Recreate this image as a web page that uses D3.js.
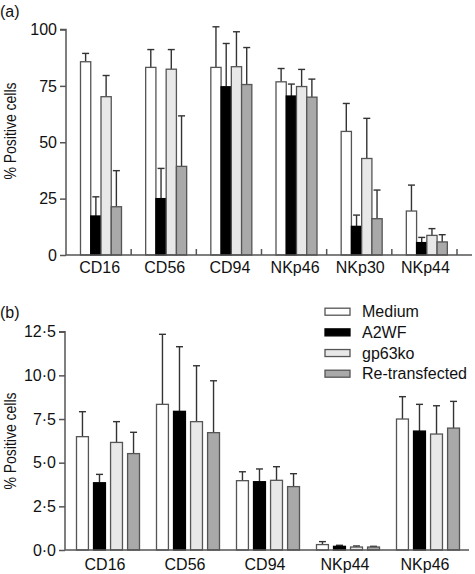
<!DOCTYPE html>
<html>
<head>
<meta charset="utf-8">
<script src="https://cdn.jsdelivr.net/npm/d3@7"></script>
<style>
  html, body { margin: 0; padding: 0; background: #fff; }
  svg { display: block; font-family: "Liberation Sans", Arial, Helvetica, sans-serif; }
</style>
</head>
<body>
<svg id="chart" width="475" height="574"></svg>
<script>
// ---------- data ----------
const series = ["Medium", "A2WF", "gp63ko", "Re-transfected"];

const catsA = ["CD16", "CD56", "CD94", "NKp46", "NKp30", "NKp44"];
const meanA = {
  "Medium":         [85.7, 83.2, 83.2, 76.8, 54.8, 19.5],
  "A2WF":           [17.3, 25.0, 74.6, 70.5, 12.7, 5.5],
  "gp63ko":         [70.2, 82.4, 83.5, 74.7, 42.8, 8.7],
  "Re-transfected": [21.4, 39.3, 75.6, 70.0, 16.1, 5.8]
};
const errTopA = {
  "Medium":         [89.4, 91.1, 101.2, 82.7, 67.2, 31.0],
  "A2WF":           [25.8, 38.4, 93.8, 75.8, 17.7, 7.8],
  "gp63ko":         [79.6, 91.1, 99.0, 82.3, 60.6, 11.7],
  "Re-transfected": [37.4, 61.7, 92.0, 78.0, 28.8, 9.0]
};
const ticksA = [0, 25, 50, 75, 100];

const catsB = ["CD16", "CD56", "CD94", "NKp44", "NKp46"];
const meanB = {
  "Medium":         [6.49, 8.34, 3.97, 0.31, 7.50],
  "A2WF":           [3.85, 7.94, 3.91, 0.21, 6.81],
  "gp63ko":         [6.16, 7.35, 3.99, 0.17, 6.64],
  "Re-transfected": [5.52, 6.72, 3.63, 0.17, 6.98]
};
const errTopB = {
  "Medium":         [7.92, 12.35, 4.48, 0.48, 8.78],
  "A2WF":           [4.33, 11.64, 4.64, 0.27, 8.34],
  "gp63ko":         [7.35, 10.55, 4.77, 0.23, 8.26],
  "Re-transfected": [6.74, 9.69, 4.37, 0.21, 8.51]
};
const ticksB = [0, 2.5, 5, 7.5, 10, 12.5];

// ---------- styles ----------
const fills = {"Medium": "#ffffff", "A2WF": "#000000", "gp63ko": "#e8e8e8", "Re-transfected": "#a9a9a9"};
const strokeCol = "#555";
const axisCol = "#555";
const errCol = "#333";

const svg = d3.select("#chart");

function panel(opts) {
  const g = svg.append("g");
  const x = d3.scaleBand().domain(opts.cats).range(opts.xRange).padding(0);
  const xi = d3.scaleBand().domain(series).range(opts.innerRange).paddingInner(opts.innerPad).paddingOuter(0);
  const y = d3.scaleLinear().domain(opts.yDomain).range(opts.yRange);

  series.forEach(s => {
    const rows = opts.cats.map((c, i) => ({c, v: opts.mean[s][i], e: opts.err[s][i]}));
    const sg = g.append("g");
    sg.selectAll("line.eb").data(rows).join("line")
      .attr("x1", d => x(d.c) + xi(s) + xi.bandwidth() / 2)
      .attr("x2", d => x(d.c) + xi(s) + xi.bandwidth() / 2)
      .attr("y1", d => y(d.v)).attr("y2", d => y(d.e))
      .attr("stroke", errCol).attr("stroke-width", 1.4);
    sg.selectAll("line.cap").data(rows).join("line")
      .attr("x1", d => x(d.c) + xi(s) + xi.bandwidth() / 2 - 3.5)
      .attr("x2", d => x(d.c) + xi(s) + xi.bandwidth() / 2 + 3.5)
      .attr("y1", d => y(d.e)).attr("y2", d => y(d.e))
      .attr("stroke", errCol).attr("stroke-width", 1.4);
    sg.selectAll("rect").data(rows).join("rect")
      .attr("x", d => x(d.c) + xi(s))
      .attr("width", xi.bandwidth())
      .attr("y", d => y(d.v))
      .attr("height", d => y(0) - y(d.v))
      .attr("fill", fills[s])
      .attr("stroke", s === "A2WF" ? "#000" : strokeCol)
      .attr("stroke-width", 1.3);
  });

  const ya = d3.axisLeft(y).tickValues(opts.ticks).tickSize(6).tickPadding(3).tickFormat(opts.fmt);
  const yg = g.append("g").attr("transform", `translate(${opts.xRange[0] - (opts.axisX0off || 0)},0)`).call(ya);
  yg.select(".domain").attr("stroke", axisCol).attr("stroke-width", 1.5).attr("d", `M-6,${y(opts.yDomain[1])}H0V${y(0)}`);
  yg.selectAll(".tick line").attr("stroke", axisCol).attr("stroke-width", 1.5);
  yg.selectAll(".tick text").attr("fill", "#111").style("font-size", "16px");

  const x0 = opts.xRange[0] - (opts.axisX0off || 0);
  g.append("line").attr("x1", x0).attr("x2", opts.axisEnd)
    .attr("y1", y(0)).attr("y2", y(0)).attr("stroke", axisCol).attr("stroke-width", 1.5);
  if (opts.groupTicks) {
    g.selectAll("line.gt").data(opts.cats).join("line")
      .attr("x1", d => x(d) + x.bandwidth()).attr("x2", d => x(d) + x.bandwidth())
      .attr("y1", y(0)).attr("y2", y(0) - 6)
      .attr("stroke", axisCol).attr("stroke-width", 1.5);
  }
  g.selectAll("text.xl").data(opts.cats).join("text")
    .attr("x", d => x(d) + x.bandwidth() / 2 + opts.labelShift)
    .attr("y", opts.labelY)
    .attr("text-anchor", "middle")
    .style("font-size", "16px").attr("fill", "#111")
    .text(d => d);

  g.append("text")
    .attr("transform", `translate(${opts.ylabX},${opts.ylabY}) rotate(-90)`)
    .attr("text-anchor", "middle")
    .attr("textLength", 97).attr("lengthAdjust", "spacingAndGlyphs")
    .style("font-size", "16px").attr("fill", "#111")
    .text("% Positive cells");

  g.append("text").attr("x", 0).attr("y", opts.tagY)
    .style("font-size", "16px").attr("fill", "#111").text(opts.tag);
}

panel({
  cats: catsA, mean: meanA, err: errTopA, ticks: ticksA,
  xRange: [66, 457], innerRange: [14.5, 55.5], innerPad: 0,
  yDomain: [0, 100], yRange: [255, 29.5],
  fmt: d3.format("d"), axisEnd: 472, groupTicks: true,
  labelY: 273, labelShift: 1, ylabX: 16, ylabY: 131, tag: "(a)", tagY: 17
});

panel({
  cats: catsB, mean: meanB, err: errTopB, ticks: ticksB,
  xRange: [68, 468], innerRange: [8.5, 71.5], innerPad: 0.3, axisX0off: 3,
  yDomain: [0, 12.5], yRange: [550, 331.7],
  fmt: d => d3.format(".1f")(d).replace(".", "·"), axisEnd: 469, groupTicks: false,
  labelY: 570, labelShift: -3, ylabX: 16, ylabY: 441, tag: "(b)", tagY: 318
});

const leg = svg.append("g").attr("transform", "translate(325,311.7)");
const ly = d3.scalePoint().domain(series).range([0, 62]);
series.forEach(s => {
  leg.append("rect").attr("x", 0).attr("y", ly(s) - 3.5).attr("width", 25).attr("height", 7)
    .attr("fill", fills[s]).attr("stroke", s === "A2WF" ? "#000" : strokeCol).attr("stroke-width", 1.3);
  leg.append("text").attr("x", 37).attr("y", ly(s)).attr("dy", "0.36em")
    .style("font-size", "16px").attr("fill", "#111").text(s);
});
</script>
</body>
</html>
